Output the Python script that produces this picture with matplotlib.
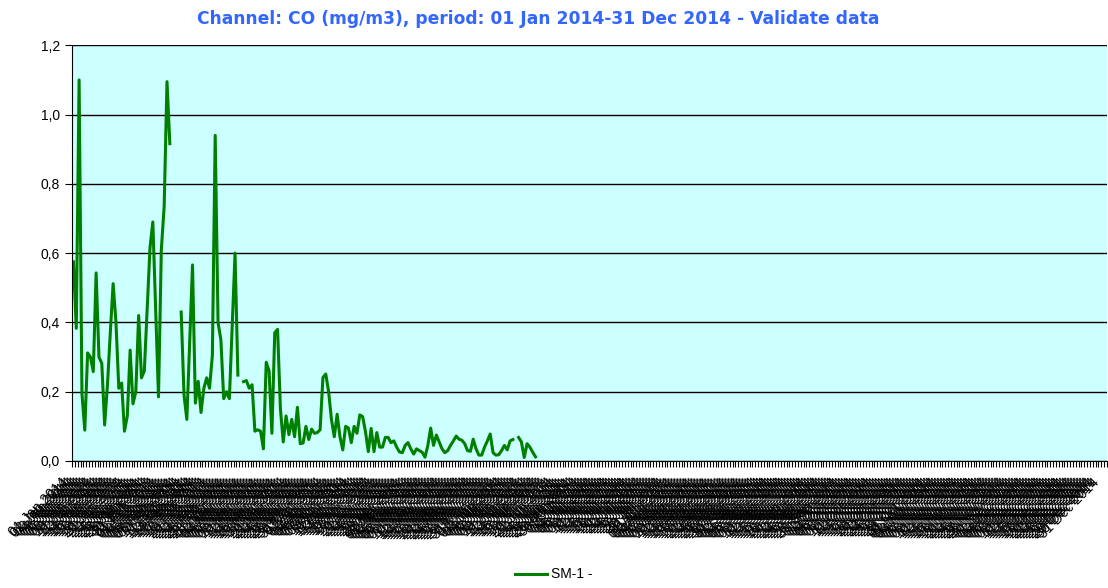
import numpy as np
import pandas as pd
import matplotlib
matplotlib.use("Agg")
import matplotlib.pyplot as plt
import matplotlib.transforms as mtransforms
from matplotlib.ticker import FuncFormatter, MultipleLocator

# daily CO values (mg/m3), 01 Jan 2014 onwards; None = missing day
co_values = [
    0.575, 0.383, 1.10, 0.195, 0.089, 0.312, 0.30, 0.258, 0.543, 0.30,
    0.282, 0.104, 0.22, 0.37, 0.512, 0.40, 0.21, 0.225, 0.086, 0.13,
    0.32, 0.165, 0.20, 0.42, 0.24, 0.26, 0.44, 0.615, 0.69, 0.44,
    0.185, 0.61, 0.735, 1.095, 0.916, None, None, None, 0.43, 0.19,
    0.12, 0.34, 0.566, 0.167, 0.23, 0.14, 0.21, 0.24, 0.21, 0.305,
    0.94, 0.40, 0.35, 0.18, 0.20, 0.18, 0.39, 0.60, 0.248, None,
    0.229, 0.232, 0.21, 0.22, 0.086, 0.09, 0.086, 0.035, 0.285, 0.26,
    0.08, 0.37, 0.38, 0.15, 0.055, 0.13, 0.076, 0.12, 0.07, 0.155,
    0.05, 0.052, 0.10, 0.062, 0.092, 0.08, 0.082, 0.09, 0.241, 0.251,
    0.20, 0.12, 0.07, 0.135, 0.07, 0.032, 0.10, 0.095, 0.053, 0.10,
    0.08, 0.133, 0.128, 0.085, 0.027, 0.094, 0.027, 0.082, 0.04, 0.04,
    0.068, 0.068, 0.053, 0.058, 0.04, 0.026, 0.024, 0.045, 0.053, 0.035,
    0.02, 0.035, 0.03, 0.025, 0.011, 0.045, 0.095, 0.045, 0.075, 0.055,
    0.035, 0.024, 0.03, 0.045, 0.058, 0.072, 0.063, 0.06, 0.05, 0.03,
    0.028, 0.063, 0.035, 0.017, 0.017, 0.04, 0.058, 0.078, 0.024, 0.017,
    0.018, 0.03, 0.045, 0.032, 0.058, 0.062, None, 0.068, 0.055, 0.01,
    0.05, 0.04, 0.025, 0.012,
]

dates = pd.date_range("2014-01-01", "2014-12-31", freq="D")
date_labels = [d.strftime("%d %b %Y") for d in dates]
series_name = "SM-1 -"
title = "Channel: CO (mg/m3), period: 01 Jan 2014-31 Dec 2014 - Validate data"

# rest of the year has no data
y = np.full(len(dates), np.nan)
y[:len(co_values)] = [np.nan if v is None else v for v in co_values]
x = np.arange(len(dates))

fig = plt.figure(figsize=(11.08, 5.88), dpi=100)
ax = fig.add_axes([0.065, 0.216, 0.934, 0.707])
ax.set_facecolor("#CCFFFF")

line, = ax.plot(x, y, color="#008000", lw=2.2, label=series_name)

ax.set_xlim(-0.5, len(dates) - 0.5)
ax.set_ylim(0, 1.2)
ax.yaxis.set_major_locator(MultipleLocator(0.2))
ax.yaxis.set_major_formatter(FuncFormatter(lambda v, p: ("%.1f" % v).replace(".", ",")))
ax.grid(axis="y", color="black", lw=1)
ax.set_axisbelow(True)

ax.set_xticks(x)
ax.set_xticklabels(date_labels, rotation=45, ha="right", va="center",
                   rotation_mode="anchor", fontsize=10, family="Liberation Sans")
ax.set_xticks(np.arange(len(dates) + 1) - 0.5, minor=True)
ax.tick_params(axis="x", which="major", length=0, pad=14)
ax.tick_params(axis="x", which="minor", length=4, width=0.8, direction="out")
ax.tick_params(axis="y", length=5, labelsize=10)
for lab in ax.get_yticklabels():
    lab.set_family("Liberation Sans")

# nudge the rotated date labels left a little so the last one stays inside
shift = mtransforms.ScaledTranslation(-6 / 72, 0, fig.dpi_scale_trans)
for lab in ax.get_xticklabels():
    lab.set_transform(lab.get_transform() + shift)

for side in ["top", "right"]:
    ax.spines[side].set_visible(False)
ax.spines["left"].set_color("black")
ax.spines["bottom"].set_color("black")

fig.text(0.486, 0.968, title, ha="center", va="center", fontsize=12.3,
         fontweight="bold", color="#3366FF")

fig.legend(handles=[line], loc="lower center", bbox_to_anchor=(0.5, -0.01),
           frameon=False, prop={"family": "Liberation Sans", "size": 10},
           handlelength=2.3, handletextpad=0.3)

fig.savefig("out.png", dpi=100)
